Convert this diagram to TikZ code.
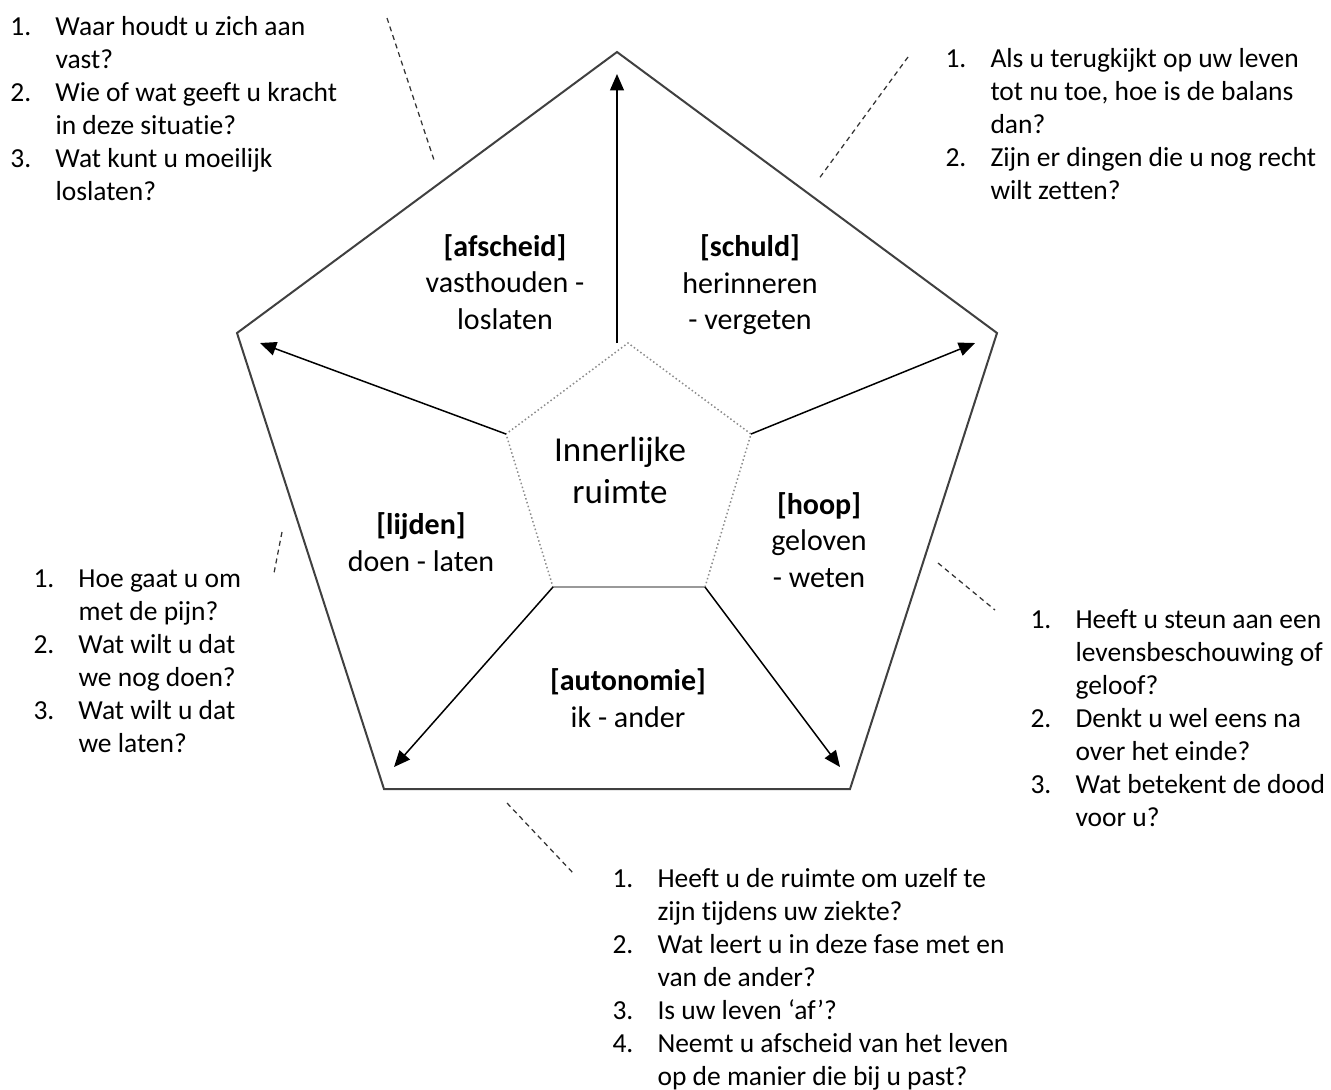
\documentclass[tikz,border=0pt]{standalone}
\usepackage{fontspec}
\setmainfont{Carlito}[Ligatures={NoCommon,NoRare,NoContextual}]
\usetikzlibrary{arrows.meta}

\begin{document}
\begin{tikzpicture}[x=0.4pt,y=-0.4pt,
	rim/.style={draw=black!75,line width=0.8pt,line join=miter},
	core/.style={draw=black!45,densely dotted,line width=0.6pt},
	spoke/.style={line width=0.6pt,-{Triangle[length=6.5pt,width=5.5pt]}},
	leader/.style={black!80,dash pattern=on 2pt off 1.6pt,line width=0.5pt},
	sector/.style={align=center,inner sep=0pt,font=\fontsize{12}{14.6}\selectfont},
	qlist/.style={anchor=base west,inner sep=0pt,font=\fontsize{11}{13.2}\selectfont}]
	\useasboundingbox (0,0) rectangle (1331,1089);

	\coordinate (o1) at (617,52);
	\coordinate (o2) at (997,333);
	\coordinate (o3) at (850,789);
	\coordinate (o4) at (384,789);
	\coordinate (o5) at (237,333);
	\draw[rim] (o1) -- (o2) -- (o3) -- (o4) -- (o5) -- cycle;

	\coordinate (i1) at (628,343);
	\coordinate (i2) at (751,434);
	\coordinate (i3) at (705,587);
	\coordinate (i4) at (553,587);
	\coordinate (i5) at (506,434);
	\draw[core] (i3) -- (i2) -- (i1) -- (i5) -- (i4);
	\draw[black!40,line width=0.6pt] (i4) -- (i3);

	\coordinate (a1) at (617,74);
	\coordinate (a2) at (975,343);
	\coordinate (a3) at (840,767);
	\coordinate (a4) at (394,767);
	\coordinate (a5) at (260,343);
	\draw[spoke] (a1 |- i1) -- (a1);
	\draw[spoke] (i2) -- (a2);
	\draw[spoke] (i3) -- (a3);
	\draw[spoke] (i4) -- (a4);
	\draw[spoke] (i5) -- (a5);

	\node[align=center,inner sep=0pt,font=\fontsize{14}{16.8}\selectfont] (kern) at (620,470) {Innerlijke\\ruimte};
	\node[sector] (afscheid) at (505,282) {\textbf{[afscheid]}\\vasthouden -\\loslaten};
	\node[sector] (schuld) at (750,285) {\textbf{[schuld]}\\herinneren\\- vergeten};
	\node[sector] (lijden) at (421,542) {\textbf{[lijden]}\\doen - laten};
	\node[sector] (hoop) at (819,540) {\textbf{[hoop]}\\geloven\\- weten};
	\node[sector] (autonomie) at (628,698) {\textbf{[autonomie]}\\ik - ander};

	\node[qlist] (qafscheid) at (10,35) {\begin{tabular}[t]{@{}p{18pt}@{}l@{}}
		1. & Waar houdt u zich aan\\
		   & vast?\\
		2. & Wie of wat geeft u kracht\\
		   & in deze situatie?\\
		3. & Wat kunt u moeilijk\\
		   & loslaten?
	\end{tabular}};
	\node[qlist] (qschuld) at (945,67) {\begin{tabular}[t]{@{}p{18pt}@{}l@{}}
		1. & Als u terugkijkt op uw leven\\
		   & tot nu toe, hoe is de balans\\
		   & dan?\\
		2. & Zijn er dingen die u nog recht\\
		   & wilt zetten?
	\end{tabular}};
	\node[qlist] (qlijden) at (33,587) {\begin{tabular}[t]{@{}p{18pt}@{}l@{}}
		1. & Hoe gaat u om\\
		   & met de pijn?\\
		2. & Wat wilt u dat\\
		   & we nog doen?\\
		3. & Wat wilt u dat\\
		   & we laten?
	\end{tabular}};
	\node[qlist] (qhoop) at (1030,628) {\begin{tabular}[t]{@{}p{18pt}@{}l@{}}
		1. & Heeft u steun aan een\\
		   & levensbeschouwing of\\
		   & geloof?\\
		2. & Denkt u wel eens na\\
		   & over het einde?\\
		3. & Wat betekent de dood\\
		   & voor u?
	\end{tabular}};
	\node[qlist] (qautonomie) at (612,887) {\begin{tabular}[t]{@{}p{18pt}@{}l@{}}
		1. & Heeft u de ruimte om uzelf te\\
		   & zijn tijdens uw ziekte?\\
		2. & Wat leert u in deze fase met en\\
		   & van de ander?\\
		3. & Is uw leven ‘af’?\\
		4. & Neemt u afscheid van het leven\\
		   & op de manier die bij u past?
	\end{tabular}};

	\coordinate (l1a) at (387,18);
	\coordinate (l1b) at (434,160);
	\coordinate (l2a) at (908,57);
	\coordinate (l2b) at (818,180);
	\coordinate (l3a) at (282,532);
	\coordinate (l3b) at (274,573);
	\coordinate (l4a) at (938,563);
	\coordinate (l4b) at (995,610);
	\coordinate (l5a) at (507,803);
	\coordinate (l5b) at (574,874);
	\draw[leader] (l1a) -- (l1b);
	\draw[leader] (l2a) -- (l2b);
	\draw[leader] (l3a) -- (l3b);
	\draw[leader] (l4a) -- (l4b);
	\draw[leader] (l5a) -- (l5b);
\end{tikzpicture}
\end{document}
